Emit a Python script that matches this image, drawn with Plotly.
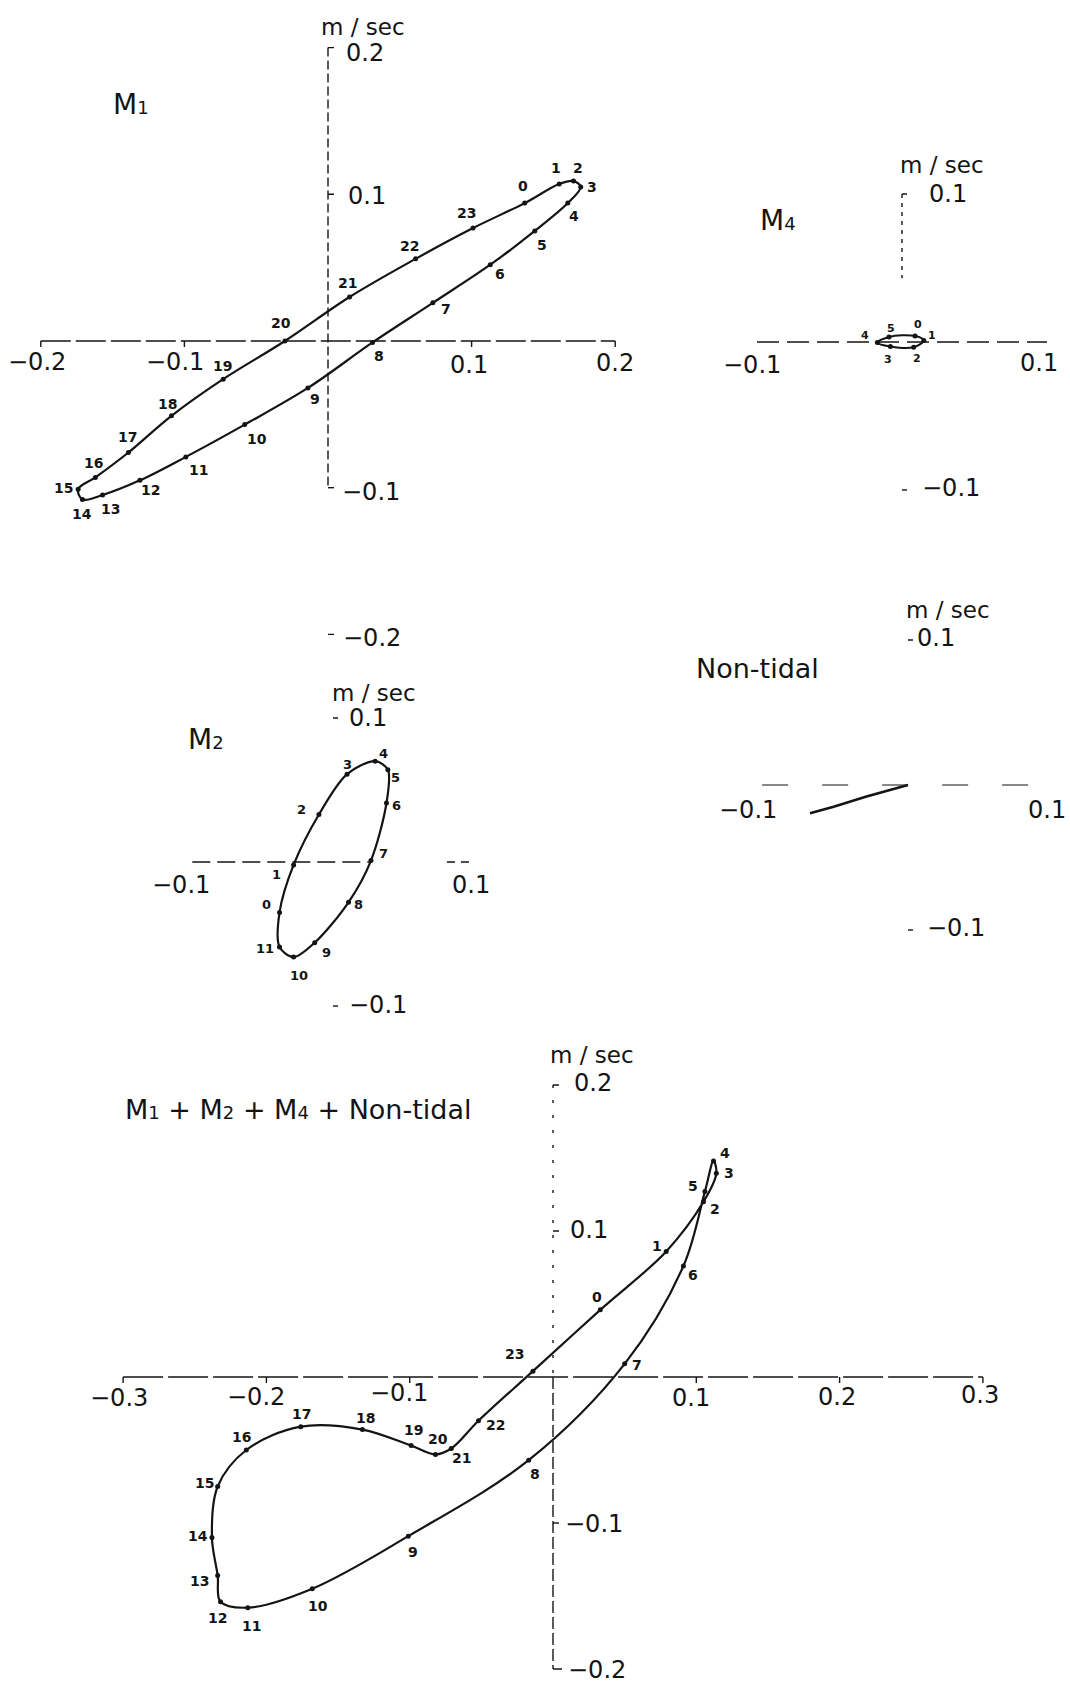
import plotly.graph_objects as go

W, H = 1070, 1684
INK = "#141414"
FONT = "DejaVu Sans"

# ---------------- hourly current vectors (m/sec): u = east, v = north ----------------
m1_hours = list(range(24))
m1_u = [0.137, 0.161, 0.171, 0.176, 0.167, 0.144, 0.113, 0.073, 0.031, -0.014, -0.058, -0.099,
        -0.131, -0.157, -0.171, -0.174, -0.162, -0.139, -0.109, -0.073, -0.030, 0.015, 0.061, 0.101]
m1_v = [0.094, 0.107, 0.109, 0.105, 0.094, 0.075, 0.052, 0.026, -0.001, -0.032, -0.057, -0.079,
        -0.095, -0.105, -0.108, -0.101, -0.093, -0.076, -0.051, -0.026, 0.000, 0.030, 0.056, 0.077]

m2_hours = list(range(12))
m2_u = [-0.038, -0.028, -0.010, 0.010, 0.030, 0.039, 0.038, 0.027, 0.011, -0.013, -0.028, -0.038]
m2_v = [-0.035, -0.002, 0.033, 0.061, 0.070, 0.064, 0.041, 0.001, -0.028, -0.056, -0.066, -0.059]

m4_hours = list(range(6))
m4_u = [0.009, 0.015, 0.008, -0.008, -0.017, -0.009]
m4_v = [0.004, 0.001, -0.0035, -0.003, -0.0004, 0.0034]

nt_u = [0.0, -0.029, -0.052, -0.0685]
nt_v = [0.0, -0.008, -0.015, -0.0195]

tot_hours = list(range(24))
tot_u = [0.033, 0.079, 0.105, 0.114, 0.112, 0.106, 0.091, 0.050, -0.017, -0.101, -0.168, -0.213,
         -0.232, -0.234, -0.238, -0.234, -0.214, -0.176, -0.133, -0.099, -0.082, -0.071, -0.052, -0.014]
tot_v = [0.046, 0.086, 0.120, 0.1395, 0.148, 0.127, 0.076, 0.009, -0.057, -0.109, -0.145, -0.158,
         -0.154, -0.136, -0.110, -0.075, -0.050, -0.034, -0.036, -0.047, -0.053, -0.049, -0.030, 0.004]

# ---------------- panel placement: origin (px), scale (px per m/s), visible ranges ----------------
PANELS = {
    "m1":  dict(ax=("x", "y"),   ox=328, oy=341,  kx=1436, ky=1467, xr=(-0.225, 0.225), yr=(-0.215, 0.228)),
    "m4":  dict(ax=("x2", "y2"), ox=902, oy=342,  kx=1450, ky=1480, xr=(-0.11, 0.115),  yr=(-0.125, 0.15)),
    "m2":  dict(ax=("x3", "y3"), ox=333, oy=862,  kx=1407, ky=1440, xr=(-0.13, 0.13),   yr=(-0.11, 0.135)),
    "nt":  dict(ax=("x4", "y4"), ox=908, oy=785,  kx=1430, ky=1450, xr=(-0.12, 0.113),  yr=(-0.12, 0.135)),
    "tot": dict(ax=("x5", "y5"), ox=553, oy=1377, kx=1433, ky=1460, xr=(-0.33, 0.33),   yr=(-0.21, 0.23)),
}

fig = go.Figure()

layout_axes = {}
for p in PANELS.values():
    xa, ya = p["ax"]
    dx0 = (p["ox"] + p["xr"][0] * p["kx"]) / W
    dx1 = (p["ox"] + p["xr"][1] * p["kx"]) / W
    dy0 = 1 - (p["oy"] - p["yr"][0] * p["ky"]) / H
    dy1 = 1 - (p["oy"] - p["yr"][1] * p["ky"]) / H
    layout_axes["xaxis" + xa[1:]] = dict(domain=[max(0, dx0), min(1, dx1)], range=list(p["xr"]),
                                         visible=False, fixedrange=True, anchor=ya)
    layout_axes["yaxis" + ya[1:]] = dict(domain=[max(0, dy0), min(1, dy1)], range=list(p["yr"]),
                                         visible=False, fixedrange=True, anchor=xa)


def add_line(p, xs, ys, width=1.4, dash="solid", shape="linear", smoothing=1.0):
    fig.add_trace(go.Scatter(
        x=xs, y=ys, xaxis=p["ax"][0], yaxis=p["ax"][1], mode="lines",
        line=dict(color=INK, width=width, dash=dash, shape=shape, smoothing=smoothing),
        hoverinfo="skip", showlegend=False))


def add_dots(p, xs, ys, size=5):
    fig.add_trace(go.Scatter(
        x=xs, y=ys, xaxis=p["ax"][0], yaxis=p["ax"][1], mode="markers",
        marker=dict(color=INK, size=size), hoverinfo="skip", showlegend=False))


def xticks(p, vals, length=6):
    xs, ys = [], []
    for v in vals:
        xs += [v, v, None]
        ys += [0, -length / p["ky"], None]
    add_line(p, xs, ys, width=1.4)


def yticks(p, vals, length=6):
    xs, ys = [], []
    for v in vals:
        xs += [0, length / p["kx"], None]
        ys += [v, v, None]
    add_line(p, xs, ys, width=1.4)


def label(p, x, y, s, size=24, dx=0, dy=0, anchor="center", bold=False):
    fig.add_annotation(
        xref=p["ax"][0], yref=p["ax"][1], x=x, y=y, text=s, showarrow=False,
        xshift=dx, yshift=-dy, xanchor=anchor, yanchor="middle",
        font=dict(family=FONT, size=size, color=INK, weight="bold" if bold else "normal"))


def loop(p, hrs, us, vs, start, width=2.2, smoothing=1.0):
    n = len(hrs)
    order = [(start + i) % n for i in range(n + 1)]
    add_line(p, [us[i] for i in order], [vs[i] for i in order], width=width,
             shape="spline", smoothing=smoothing)
    add_dots(p, us, vs)


def hour_labels(p, hrs, us, vs, offsets, size=14):
    for h, u, v, (ddx, ddy) in zip(hrs, us, vs, offsets):
        label(p, u, v, str(h), size=size, dx=ddx, dy=ddy, bold=True)


def tide(name, idx, size=18):
    # constituent name with a small index numeral, e.g. M1
    return f"{name}<span style='font-size:{size}px'>{idx}</span>"


MINUS = "\u2212"

# ---------------- M1 ----------------
p = PANELS["m1"]
add_line(p, [-0.2, 0.2], [0, 0], dash="30px,5px")
xticks(p, [-0.2, -0.1, 0.1, 0.2])
add_line(p, [0, 0], [0.2, -0.1], dash="9px,4px")
yticks(p, [0.2, 0.1, -0.1, -0.2])
loop(p, m1_hours, m1_u, m1_v, start=14)
hour_labels(p, m1_hours, m1_u, m1_v, [
    (-2, -17), (-3, -16), (4, -13), (11, 0), (6, 13), (7, 14), (10, 9), (13, 6), (6, 14), (7, 11),
    (12, 14), (13, 13), (11, 10), (8, 14), (0, 15), (-15, -1), (-2, -14), (-1, -15), (-4, -12),
    (-1, -13), (-4, -18), (-2, -14), (-6, -13), (-7, -15)])
label(p, 0, 0.2, "m / sec", size=23, dx=35, dy=-21)
label(p, 0, 0.2, "0.2", dx=16, dy=5, anchor="left")
label(p, 0, 0.1, "0.1", dx=18, dy=2, anchor="left")
label(p, 0, -0.1, MINUS + "0.1", dx=12, dy=4, anchor="left")
label(p, 0, -0.2, MINUS + "0.2", dx=13, dy=4, anchor="left")
label(p, -0.2, 0, MINUS + "0.2", dx=-4, dy=21)
label(p, -0.1, 0, MINUS + "0.1", dx=-9, dy=21)
label(p, 0.1, 0, "0.1", dx=-3, dy=24)
label(p, 0.2, 0, "0.2", dx=0, dy=22)
label(p, -0.137, 0.161, tide("M", 1), size=28)

# ---------------- M4 ----------------
p = PANELS["m4"]
add_line(p, [-0.1, 0.1], [0, 0], dash="22px,8px")
add_line(p, [0, 0], [0.1, 0.043], dash="4px,5px")
yticks(p, [0.1, -0.1], length=5)
loop(p, m4_hours, m4_u, m4_v, start=4, width=2.0)
hour_labels(p, m4_hours, m4_u, m4_v, [(3, -12), (8, -5), (3, 11), (-2, 13), (-12, -7), (2, -8)], size=11)
label(p, 0, 0.1, "m / sec", size=23, dx=40, dy=-29)
label(p, 0, 0.1, "0.1", dx=25, dy=0, anchor="left")
label(p, 0, -0.1, MINUS + "0.1", dx=18, dy=-2, anchor="left")
label(p, -0.1, 0, MINUS + "0.1", dx=-5, dy=23)
label(p, 0.1, 0, "0.1", dx=-8, dy=21)
label(p, -0.0855, 0.0824, tide("M", 4), size=28)

# ---------------- M2 ----------------
p = PANELS["m2"]
add_line(p, [-0.1, 0.026], [0, 0], dash="18px,7px")
add_line(p, [0.081, 0.1], [0, 0], dash="8px,6px")
yticks(p, [0.1, -0.1], length=5)
loop(p, m2_hours, m2_u, m2_v, start=10, smoothing=0.9)
hour_labels(p, m2_hours, m2_u, m2_v, [
    (-13, -8), (-17, 10), (-17, -5), (0, -10), (8, -8), (8, 8), (10, 3), (13, -7), (10, 2),
    (12, 10), (5, 18), (-15, 2)], size=13)
label(p, 0, 0.1, "m / sec", size=23, dx=41, dy=-25)
label(p, 0, 0.1, "0.1", dx=14, dy=0, anchor="left")
label(p, 0, -0.1, MINUS + "0.1", dx=14, dy=-1, anchor="left")
label(p, -0.1, 0, MINUS + "0.1", dx=-11, dy=23)
label(p, 0.1, 0, "0.1", dx=-3, dy=23)
label(p, -0.09, 0.085, tide("M", 2), size=28)

# ---------------- Non-tidal ----------------
p = PANELS["nt"]
add_line(p, [-0.102, 0.099], [0, 0], width=1.2, dash="26px,34px")
yticks(p, [0.1, -0.1], length=5)
add_line(p, nt_u, nt_v, width=2.6)
label(p, 0, 0.1, "m / sec", size=23, dx=40, dy=-30)
label(p, 0, 0.1, "0.1", dx=7, dy=-2, anchor="left")
label(p, 0, -0.1, MINUS + "0.1", dx=17, dy=-2, anchor="left")
label(p, -0.1, 0, MINUS + "0.1", dx=-17, dy=25)
label(p, 0.1, 0, "0.1", dx=-4, dy=25)
label(p, -0.105, 0.0805, "Non-tidal", size=27)

# ---------------- M1 + M2 + M4 + Non-tidal ----------------
p = PANELS["tot"]
add_line(p, [-0.3, 0.3], [0, 0], dash="40px,5px")
xticks(p, [-0.3, -0.2, -0.1, 0.1, 0.2, 0.3])
add_line(p, [0, 0], [0.2, 0.0], dash="3px,12px")
add_line(p, [0, 0], [0.0, -0.2], dash="12px,4px")
yticks(p, [0.2, 0.1, -0.1], length=6)
yticks(p, [-0.2], length=9)
loop(p, tot_hours, tot_u, tot_v, start=12)
hour_labels(p, tot_hours, tot_u, tot_v, [
    (-3, -13), (-9, -5), (12, 7), (13, 0), (11, -8), (-12, -6), (10, 9), (12, 1), (6, 14), (5, 16),
    (6, 17), (4, 18), (-3, 16), (-18, 5), (-14, -2), (-13, -4), (-5, -13), (1, -13), (3, -12),
    (2, -16), (3, -15), (10, 9), (17, 4), (-18, -17)])
label(p, 0, 0.2, "m / sec", size=23, dx=39, dy=-30)
label(p, 0, 0.2, "0.2", dx=19, dy=-2, anchor="left")
label(p, 0, 0.1, "0.1", dx=15, dy=-1, anchor="left")
label(p, 0, -0.1, MINUS + "0.1", dx=10, dy=1, anchor="left")
label(p, 0, -0.2, MINUS + "0.2", dx=13, dy=1, anchor="left")
label(p, -0.3, 0, MINUS + "0.3", dx=-4, dy=21)
label(p, -0.2, 0, MINUS + "0.2", dx=-10, dy=20)
label(p, -0.1, 0, MINUS + "0.1", dx=-11, dy=16)
label(p, 0.1, 0, "0.1", dx=-5, dy=21)
label(p, 0.2, 0, "0.2", dx=-3, dy=20)
label(p, 0.3, 0, "0.3", dx=-3, dy=18)
label(p, -0.178, 0.183,
      tide("M", 1) + " + " + tide("M", 2) + " + " + tide("M", 4) + " + Non-tidal", size=27)

fig.update_layout(
    width=W, height=H, autosize=False,
    margin=dict(l=0, r=0, t=0, b=0, pad=0),
    paper_bgcolor="white", plot_bgcolor="white",
    showlegend=False,
    **layout_axes,
)

fig.write_html("out.html", config={"displayModeBar": False})
